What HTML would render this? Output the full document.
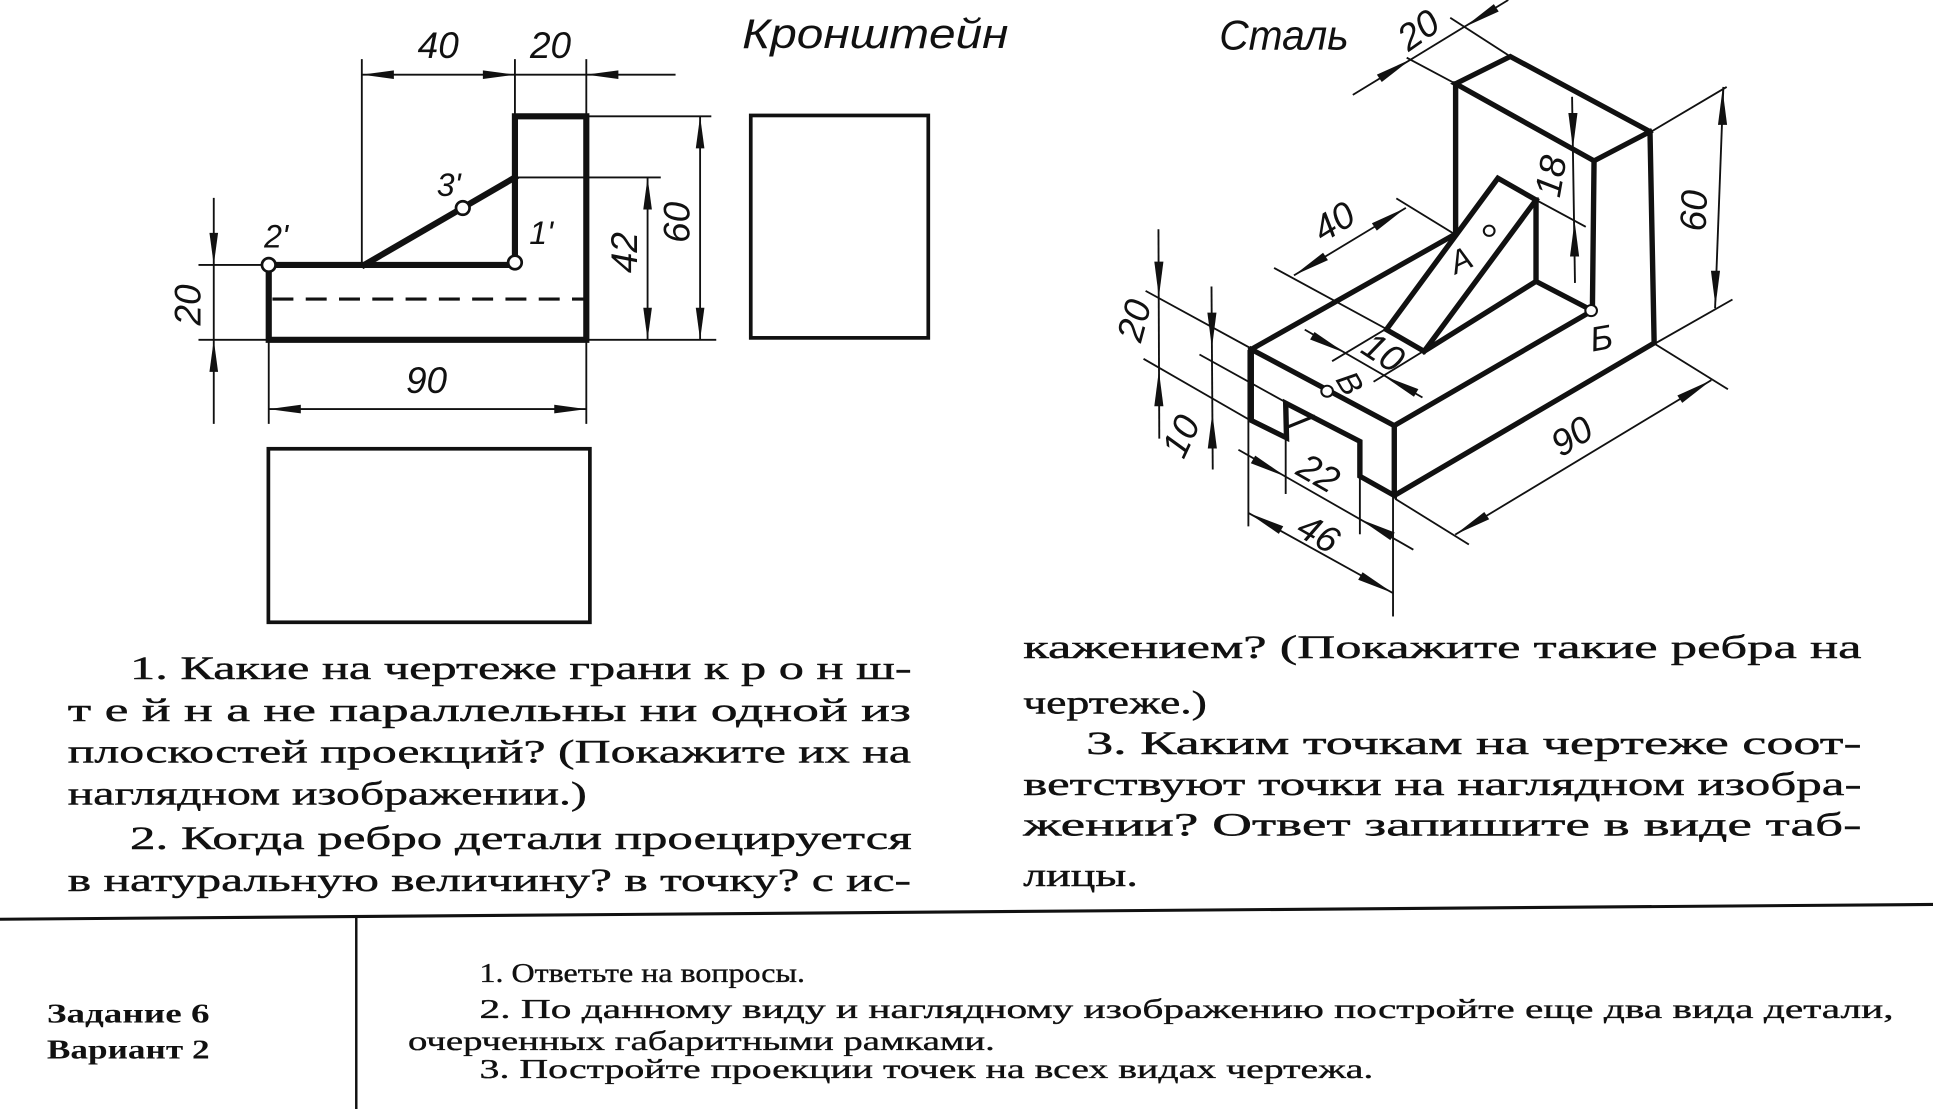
<!DOCTYPE html>
<html><head><meta charset="utf-8">
<style>
html,body{margin:0;padding:0;background:#fff;width:1933px;height:1109px;overflow:hidden}
svg{display:block}
.d{font-family:"Liberation Sans","DejaVu Sans",sans-serif;font-style:italic;font-size:30px;fill:#111}
.p{font-family:"Liberation Serif","DejaVu Serif",serif;font-size:27px;fill:#111;stroke:#111;stroke-width:0.35}
.b{font-family:"Liberation Serif","DejaVu Serif",serif;font-size:22px;fill:#111;stroke:#111;stroke-width:0.3}
.bb{font-family:"Liberation Serif","DejaVu Serif",serif;font-size:22px;font-weight:bold;fill:#111}
</style></head>
<body>
<svg width="1933" height="1109" viewBox="0 0 1568 900" preserveAspectRatio="none" xmlns="http://www.w3.org/2000/svg">
<rect x="0" y="0" width="1568" height="900" fill="#fff"/>

<!-- ===== LEFT: front view ===== -->
<g stroke="#111" fill="none" stroke-linecap="square">
  <path d="M218,215 L218,275.8 L475.6,275.8 L475.6,94.4 L417.7,94.4 L417.7,213" stroke-width="5"/>
  <path d="M218,215 L417.7,215" stroke-width="5"/>
  <path d="M295.5,215 L417.7,144" stroke-width="5"/>
  <path d="M221,242.7 L474,242.7" stroke-width="2.5" stroke-dasharray="17,10" stroke-linecap="butt"/>
</g>
<g stroke="#111" fill="none" stroke-width="1.5">
  <line x1="293.5" y1="48" x2="293.5" y2="215"/>
  <line x1="417.7" y1="48" x2="417.7" y2="94"/>
  <line x1="475.6" y1="48" x2="475.6" y2="94"/>
  <line x1="293.5" y1="60.6" x2="548" y2="60.6"/>
  <line x1="476" y1="94.4" x2="577" y2="94.4"/>
  <line x1="418" y1="144" x2="536" y2="144"/>
  <line x1="476" y1="275.8" x2="581" y2="275.8"/>
  <line x1="525.3" y1="144" x2="525.3" y2="275.8"/>
  <line x1="567.9" y1="94.4" x2="567.9" y2="275.8"/>
  <line x1="161" y1="215" x2="218" y2="215"/>
  <line x1="161" y1="275.8" x2="218" y2="275.8"/>
  <line x1="173.4" y1="160.6" x2="173.4" y2="344"/>
  <line x1="218" y1="276" x2="218" y2="344"/>
  <line x1="475.6" y1="276" x2="475.6" y2="344"/>
  <line x1="218" y1="332" x2="475.6" y2="332"/>
</g>
<g fill="#111" stroke="none">
  <polygon points="293.5,60.6 319.5,57.1 319.5,64.1"/>
  <polygon points="417.7,60.6 391.7,57.1 391.7,64.1"/>
  <polygon points="475.6,60.6 501.6,57.1 501.6,64.1"/>
  <polygon points="525.3,144 521.8,170 528.8,170"/>
  <polygon points="525.3,275.8 521.8,249.8 528.8,249.8"/>
  <polygon points="567.9,94.4 564.4,120.4 571.4,120.4"/>
  <polygon points="567.9,275.8 564.4,249.8 571.4,249.8"/>
  <polygon points="173.4,215 169.9,189 176.9,189"/>
  <polygon points="173.4,275.8 169.9,301.8 176.9,301.8"/>
  <polygon points="218,332 244,328.5 244,335.5"/>
  <polygon points="475.6,332 449.6,328.5 449.6,335.5"/>
</g>
<g fill="#fff" stroke="#111" stroke-width="2.2">
  <circle cx="218" cy="215" r="5.5"/>
  <circle cx="375.4" cy="168.8" r="5.5"/>
  <circle cx="417.7" cy="213" r="5.5"/>
</g>
<text class="d" x="355.5" y="37" text-anchor="middle" dominant-baseline="central">40</text>
<text class="d" x="446.6" y="37" text-anchor="middle" dominant-baseline="central">20</text>
<text class="d" transform="translate(506.5,205) rotate(-90)" text-anchor="middle" dominant-baseline="central">42</text>
<text class="d" transform="translate(549,180.5) rotate(-90)" text-anchor="middle" dominant-baseline="central">60</text>
<text class="d" transform="translate(152.7,247.5) rotate(-90)" text-anchor="middle" dominant-baseline="central">20</text>
<text class="d" x="346" y="309" text-anchor="middle" dominant-baseline="central">90</text>
<text class="d" x="224" y="192" text-anchor="middle" dominant-baseline="central" style="font-size:26px">2'</text>
<text class="d" x="364" y="150" text-anchor="middle" dominant-baseline="central" style="font-size:26px">3'</text>
<text class="d" x="439" y="189" text-anchor="middle" dominant-baseline="central" style="font-size:26px">1'</text>

<rect x="217.7" y="364.2" width="260.8" height="140.8" fill="none" stroke="#111" stroke-width="3"/>
<rect x="609" y="93.7" width="144" height="180.5" fill="none" stroke="#111" stroke-width="3"/>

<text class="d" x="602" y="39" textLength="216" lengthAdjust="spacingAndGlyphs" style="font-size:34px">Кронштейн</text>
<text class="d" x="989" y="40" textLength="105" lengthAdjust="spacingAndGlyphs" style="font-size:34px">Сталь</text>

<!-- ===== RIGHT: isometric ===== -->
<g transform="translate(892.3,0) scale(0.3362,0.3207)">
  <g stroke="#111" fill="none" stroke-width="13" stroke-linejoin="miter" stroke-linecap="square">
    <path d="M365,884 L710,1077 L1188,786"/>
    <path d="M365,884 L365,1064 L450,1108 L448,1020 L627,1117 L627,1205 L710,1254 L710,1077"/>
    <path d="M710,1254 L1337,868 L1327,333 L990,143 L858,212 L1192,407 L1327,333"/>
    <path d="M1192,407 L1188,786"/>
    <path d="M858,212 L858,592"/>
    <path d="M365,884 L858,592"/>
    <path d="M691,834 L960,451 L1052,506 L782,889 Z"/>
    <path d="M1052,506 L1052,712 L1188,786"/>
    <path d="M782,889 L1052,712"/>
    <path d="M454,1080 L515,1054" stroke-width="8"/>
  </g>
  <g stroke="#111" fill="none" stroke-width="4.5">
    <line x1="858" y1="212" x2="740" y2="146"/>
    <line x1="990" y1="143" x2="845" y2="45"/>
    <line x1="610" y1="240" x2="985" y2="0"/>
    <line x1="1330" y1="333" x2="1512" y2="220"/>
    <line x1="1338" y1="870" x2="1526" y2="758"/>
    <line x1="1504" y1="220" x2="1484" y2="780"/>
    <line x1="1052" y1="506" x2="1172" y2="574"/>
    <line x1="1139" y1="245" x2="1146" y2="716"/>
    <line x1="855" y1="592" x2="715" y2="502"/>
    <line x1="690" y1="832" x2="420" y2="678"/>
    <line x1="468" y1="697" x2="738" y2="526"/>
    <line x1="687" y1="834" x2="560" y2="914"/>
    <line x1="780" y1="889" x2="660" y2="966"/>
    <line x1="494" y1="834" x2="778" y2="1006"/>
    <line x1="110" y1="736" x2="365" y2="882"/>
    <line x1="240" y1="897" x2="448" y2="1018"/>
    <line x1="105" y1="908" x2="365" y2="1065"/>
    <line x1="141" y1="580" x2="143" y2="1110"/>
    <line x1="269" y1="725" x2="272" y2="1188"/>
    <line x1="448" y1="1108" x2="448" y2="1250"/>
    <line x1="627" y1="1205" x2="627" y2="1352"/>
    <line x1="334" y1="1138" x2="756" y2="1391"/>
    <line x1="358" y1="885" x2="358" y2="1332"/>
    <line x1="707" y1="1252" x2="707" y2="1560"/>
    <line x1="358" y1="1298" x2="707" y2="1501"/>
    <line x1="712" y1="1262" x2="890" y2="1378"/>
    <line x1="1338" y1="870" x2="1515" y2="985"/>
    <line x1="857" y1="1353" x2="1475" y2="962"/>
  </g>
  <g fill="#111" stroke="none">
    <polygon points="750,150 679.8,207.5 668,188.9"/>
    <polygon points="880,68 962,29.1 950.2,10.5"/>
    <polygon points="1502,226 1491,316 1513,316"/>
    <polygon points="1485,775 1474,685 1496,685"/>
    <polygon points="1141,376 1130,286 1152,286"/>
    <polygon points="1145,559 1134,649 1156,649"/>
    <polygon points="468,697 550,658.1 538.2,639.5"/>
    <polygon points="738,526 667.8,583.5 656,564.9"/>
    <polygon points="591,893 506.9,859.2 517.5,840"/>
    <polygon points="684,951 757.5,1004 768.1,984.8"/>
    <polygon points="142,752 131,662 153,662"/>
    <polygon points="142,938 131,1028 153,1028"/>
    <polygon points="270,881 259,791 281,791"/>
    <polygon points="271,1045 260,1135 282,1135"/>
    <polygon points="448,1206 363.9,1172.2 374.5,1153"/>
    <polygon points="627,1313.7 700.5,1366.7 711.1,1347.5"/>
    <polygon points="358,1298 431.5,1351 442.1,1331.8"/>
    <polygon points="707,1501 622.9,1467.2 633.5,1448"/>
    <polygon points="1475,962 1404.8,1019.5 1393,1000.9"/>
    <polygon points="857,1353 939,1314.1 927.2,1295.5"/>
  </g>
  <g fill="#fff" stroke="#111" stroke-width="5">
    <ellipse cx="548" cy="990" rx="14" ry="14"/>
    <ellipse cx="939" cy="584" rx="13" ry="13"/>
    <ellipse cx="1185" cy="786" rx="14" ry="14"/>
  </g>
</g>
<text class="d" transform="translate(1150.5,24.4) rotate(-35)" text-anchor="middle" dominant-baseline="central">20</text>
<text class="d" transform="translate(1374,171) rotate(-88)" text-anchor="middle" dominant-baseline="central">60</text>
<text class="d" transform="translate(1258,143) rotate(-80)" text-anchor="middle" dominant-baseline="central">18</text>
<text class="d" transform="translate(1082,180) rotate(-32)" text-anchor="middle" dominant-baseline="central">40</text>
<text class="d" transform="translate(1122,286) rotate(33)" text-anchor="middle" dominant-baseline="central">10</text>
<text class="d" transform="translate(1095,311) rotate(60)" text-anchor="middle" dominant-baseline="central" style="font-size:26px">В</text>
<text class="d" transform="translate(1185,211) rotate(-25)" text-anchor="middle" dominant-baseline="central" style="font-size:26px">А</text>
<text class="d" transform="translate(1299,275) rotate(-10)" text-anchor="middle" dominant-baseline="central" style="font-size:28px">Б</text>
<text class="d" transform="translate(920,260) rotate(-75)" text-anchor="middle" dominant-baseline="central">20</text>
<text class="d" transform="translate(958,354) rotate(-65)" text-anchor="middle" dominant-baseline="central">10</text>
<text class="d" transform="translate(1069.5,384) rotate(30)" text-anchor="middle" dominant-baseline="central">22</text>
<text class="d" transform="translate(1069.5,433) rotate(30)" text-anchor="middle" dominant-baseline="central">46</text>
<text class="d" transform="translate(1275,354) rotate(-32)" text-anchor="middle" dominant-baseline="central">90</text>

<!-- ===== Paragraphs ===== -->
<text class="p" x="105.5" y="551" textLength="634" lengthAdjust="spacingAndGlyphs">1. Какие на чертеже грани к р о н ш-</text>
<text class="p" x="55" y="585" textLength="684" lengthAdjust="spacingAndGlyphs">т е й н а  не параллельны  ни  одной из</text>
<text class="p" x="55" y="619" textLength="684" lengthAdjust="spacingAndGlyphs">плоскостей проекций? (Покажите их на</text>
<text class="p" x="55" y="653" textLength="421" lengthAdjust="spacingAndGlyphs">наглядном изображении.)</text>
<text class="p" x="105.5" y="689" textLength="634" lengthAdjust="spacingAndGlyphs">2. Когда ребро детали проецируется</text>
<text class="p" x="55" y="723" textLength="684" lengthAdjust="spacingAndGlyphs">в натуральную величину? в точку? с ис-</text>

<text class="p" x="830" y="534" textLength="680" lengthAdjust="spacingAndGlyphs">кажением? (Покажите такие ребра на</text>
<text class="p" x="830" y="579" textLength="149" lengthAdjust="spacingAndGlyphs">чертеже.)</text>
<text class="p" x="881" y="612" textLength="629" lengthAdjust="spacingAndGlyphs">3. Каким точкам на чертеже соот-</text>
<text class="p" x="830" y="645" textLength="680" lengthAdjust="spacingAndGlyphs">ветствуют точки на наглядном изобра-</text>
<text class="p" x="830" y="678" textLength="680" lengthAdjust="spacingAndGlyphs">жении? Ответ запишите  в  виде таб-</text>
<text class="p" x="830" y="719" textLength="93" lengthAdjust="spacingAndGlyphs">лицы.</text>

<!-- ===== Bottom block ===== -->
<line x1="0" y1="746" x2="1568" y2="734" stroke="#111" stroke-width="2.5"/>
<line x1="289" y1="745" x2="289" y2="900" stroke="#111" stroke-width="2"/>
<text class="bb" x="38" y="830" textLength="132" lengthAdjust="spacingAndGlyphs">Задание 6</text>
<text class="bb" x="38" y="859" textLength="132" lengthAdjust="spacingAndGlyphs">Вариант 2</text>
<text class="b" x="389" y="797" textLength="264" lengthAdjust="spacingAndGlyphs">1. Ответьте на вопросы.</text>
<text class="b" x="389" y="826" textLength="1147" lengthAdjust="spacingAndGlyphs">2. По данному виду и наглядному изображению постройте еще два вида детали,</text>
<text class="b" x="331" y="852" textLength="476" lengthAdjust="spacingAndGlyphs">очерченных габаритными рамками.</text>
<text class="b" x="389" y="875" textLength="725" lengthAdjust="spacingAndGlyphs">3. Постройте проекции точек на всех видах чертежа.</text>
</svg>
</body></html>
